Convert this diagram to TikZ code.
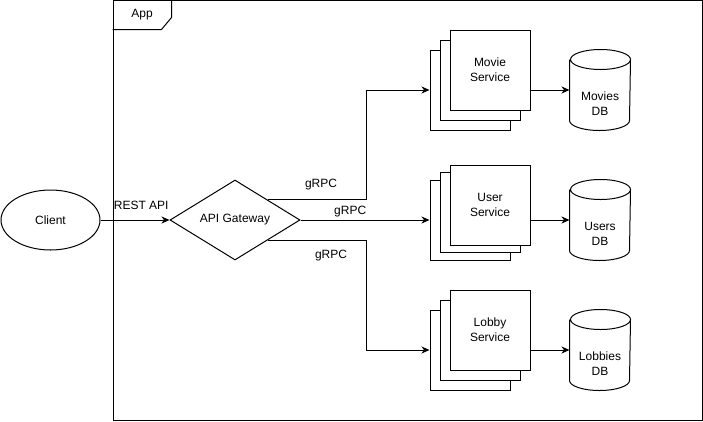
\documentclass[tikz,border=0pt]{standalone}
\usepackage{fontspec}
\setmainfont{Liberation Sans}
\usetikzlibrary{shapes.geometric,arrows.meta,calc}
\newcommand{\dbcyl}[1]{\draw ([yshift=-10pt]#1.north west) -- ([yshift=10pt]#1.south west) arc[start angle=180,end angle=360,x radius=30pt,y radius=10pt] -- ([yshift=-10pt]#1.north east) arc[start angle=0,end angle=360,x radius=30pt,y radius=10pt];}
\begin{document}
\begin{tikzpicture}[x=1pt,y=-1pt,line width=1pt,
  every node/.style={font=\fontsize{12}{15}\selectfont},
  svcbox/.style={draw,fill=white,minimum width=80pt,minimum height=80pt,inner sep=0pt,align=center},
  dbnode/.style={minimum width=60pt,minimum height=80pt,inner sep=0pt},
  dbtext/.style={label={[yshift=-14pt,align=center]center:#1}},
  arr/.style={-{Stealth[length=8pt,width=7pt,inset=2.5pt]}},
  lbl/.style={inner sep=0pt}]
\fill[white] (0,0) rectangle (703,421);
\useasboundingbox (0,0) rectangle (703,421);
% App frame
\node[draw,minimum width=589pt,minimum height=420pt,inner sep=0pt] (app) at (407.5,210) {};
\draw ([yshift=-30pt]app.north west) -- ++(49,0) -- ++(10,-12) -- ++(0,-18);
\node[lbl] (applbl) at (142,15) {App};
% Client and gateway
\node[draw,ellipse,minimum width=99pt,minimum height=60pt,inner sep=0pt] (client) at (50.5,220) {Client};
\node[draw,diamond,minimum width=130pt,minimum height=80pt,inner sep=0pt,aspect=1.625] (gw) at (235,220) {API Gateway};
% Movie stack
\node[svcbox] (msb) at (470,90) {};
\node[svcbox] (msm) at (480,80) {};
\node[svcbox] (ms) at (490,70) {Movie\\Service};
% User stack
\node[svcbox] (usb) at (470,220) {};
\node[svcbox] (usm) at (480,212.5) {};
\node[svcbox] (us) at (490,205) {User\\Service};
% Lobby stack
\node[svcbox] (lsb) at (470,350) {};
\node[svcbox] (lsm) at (480,340) {};
\node[svcbox] (ls) at (490,330) {Lobby\\Service};
% Databases
\node[dbnode,dbtext={Movies\\DB}] (mdb) at (600,90) {};
\node[dbnode,dbtext={Users\\DB}] (udb) at (600,220) {};
\node[dbnode,dbtext={Lobbies\\DB}] (ldb) at (600,350) {};
\dbcyl{mdb}
\dbcyl{udb}
\dbcyl{ldb}
% Connectors
\draw[arr] (client) -- (gw) node[lbl,pos=0.59,yshift=15pt] {REST API};
\draw[arr] (gw.north east) -- ++(98.5,0) node[lbl,midway,yshift=15pt,xshift=4pt] {gRPC} |- (msb.west);
\draw[arr] (gw.east) -- (usb.west) node[lbl,pos=0.385,yshift=8pt] {gRPC};
\draw[arr] (gw.south east) -- ++(98.5,0) node[lbl,midway,yshift=-15pt,xshift=14pt] {gRPC} |- (lsb.west);
\draw[arr] (ms.east |- msb.west) -- (mdb.west);
\draw[arr] (us.east |- usb.west) -- (udb.west);
\draw[arr] (ls.east |- lsb.west) -- (ldb.west);
\end{tikzpicture}
\end{document}
